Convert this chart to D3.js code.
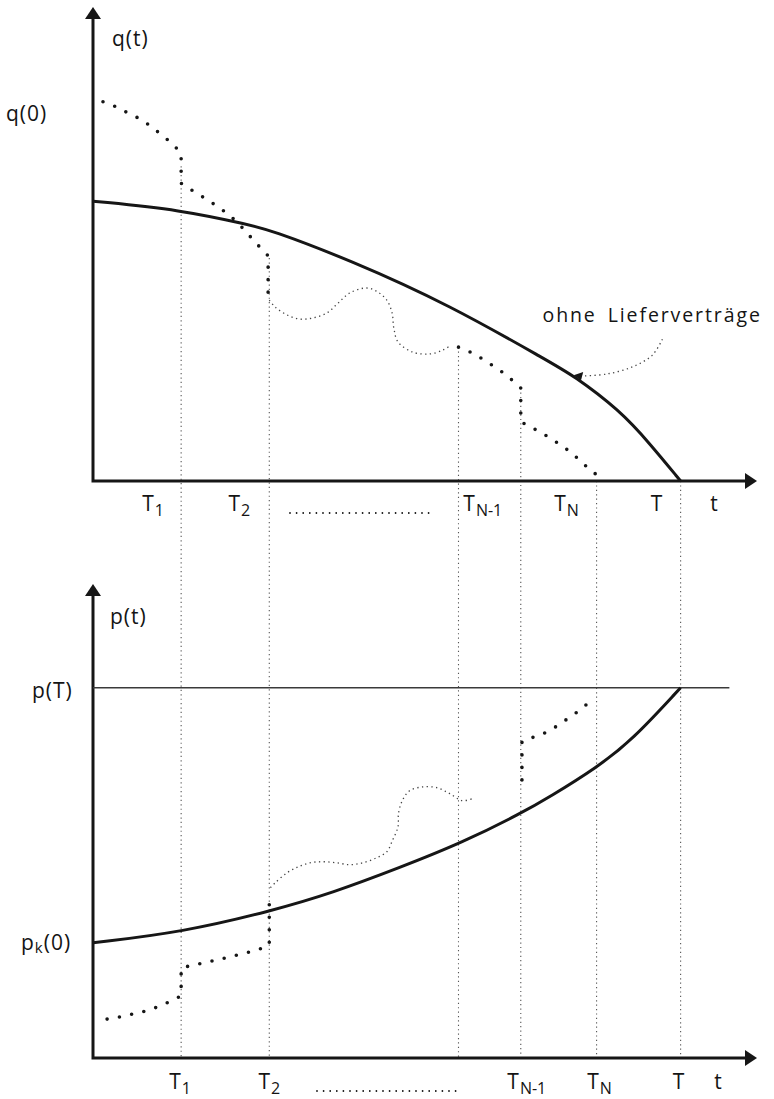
<!DOCTYPE html>
<html>
<head>
<meta charset="utf-8">
<script src="https://cdn.jsdelivr.net/npm/d3@7"></script>
<style>
  html, body { margin: 0; padding: 0; background: #fff; }
  svg { display: block; }
  text { font-family: "Open Sans", "DejaVu Sans", sans-serif; fill: #141414; }
</style>
</head>
<body>
<div id="chart"></div>
<script>
// --- data (t on a 0..100 scale where T = 100) ---

// dates marked on the time axis
const tickNames = ["1", "2", "N-1", "N", ""];          // subscripts of T
const tickT     = [15, 30, 72.8, 85.7, 100];

// vertical guide lines: where they sit and where they start in the upper panel
const guideT      = [15, 30, 62.2, 72.8, 85.7, 100];
const guideQStart = [83, 58.8, 35.3, 24.5, 0, 0];

// upper panel: q(t) without supply contracts (solid)
const qSolid = [[0, 73.8], [15, 71.5], [26.7, 67.5], [30, 66.3], [43.7, 58.3], [60.7, 46.4],
                [77.7, 31.4], [81.6, 28], [89.6, 18.7], [94.7, 10], [100, 0]];

// upper panel: q(t) with supply contracts (heavy dots, then light dots, then heavy again)
const qContractA = [[1.7, 100], [4.1, 98.6], [6, 97], [8, 95.5], [10, 93.4], [11.7, 91.2],
                    [13.6, 88.9], [15, 86.3], [15, 78.5], [17, 76.5], [19, 74.6], [21.1, 72.5],
                    [23, 70.4], [24.7, 68], [26.5, 64.9], [28.2, 62], [29.8, 59.4], [29.8, 47.7]];
const qWavy = [[30, 47.7], [31, 45.9], [33, 43.8], [35.2, 42.7], [37.4, 43], [39.8, 44.3],
               [41.7, 46.9], [43.7, 49.6], [46.6, 50.9], [48.5, 49.8], [50, 47.7], [50.9, 44.3],
               [51.2, 40.3], [51.9, 36.7], [54.4, 34], [57.3, 33.5], [59.5, 34.5], [60.7, 35.6]];
const qContractB = [[62.2, 35.3], [65, 33.5], [67, 31.4], [69, 29.5], [71.1, 26.9], [72.8, 24.5],
                    [72.8, 15.6], [74.8, 14], [77.2, 11.9], [79.3, 9.8], [81.5, 7.4], [83.3, 4.7],
                    [85.4, 2.1], [86, 0.4]];

// annotation pointer ("ohne Lieferverträge")
const notePointer = [[96.9, 37.4], [95.2, 33.2], [91.8, 30.1], [87.4, 28.2], [83.2, 27.7]];
const noteTip = [81.8, 27.9];

// lower panel: p(t) (solid), with p(T) = 100
const pSolid = [[0, 31.1], [15.3, 34], [30.4, 39.7], [40.8, 44.6], [52.2, 51.4], [62.8, 58.1],
                [73, 66.2], [77.7, 70.5], [85.7, 78.4], [91.8, 85.9], [100, 100]];
const pT = 100;

const pContractA = [[2.4, 10.5], [4.6, 11.1], [6.8, 11.9], [9, 12.7], [11, 13.8], [12.9, 15.1],
                    [15, 16.8], [15, 24.3], [17, 25.1], [19, 25.7], [21.1, 26.5], [23.3, 27.3],
                    [25.3, 28.1], [27.4, 28.9], [29.4, 30], [30, 30.5], [30, 44]];
const pWavy = [[30.2, 46], [31, 47.3], [33, 50], [34.9, 51.6], [36.9, 52.7], [39.1, 53],
               [41.5, 52.7], [43.7, 52.2], [45.9, 52.7], [48.3, 54.1], [50, 55.7], [51, 58.9],
               [51.9, 62.4], [52, 66.2], [52.7, 69.7], [53.9, 72.2], [56.1, 73.2], [58.5, 73],
               [60.7, 71.4], [62.8, 69.5], [64.5, 70]];
const pContractB = [[73, 75.1], [73, 85.4], [75.2, 86.8], [77.4, 88.1], [79.3, 90], [81.3, 92.2],
                    [83.2, 94.3], [85, 97]];

// --- layout ---
const W = 774, H = 1099;
const svg = d3.select("#chart").append("svg").attr("width", W).attr("height", H);

const x  = d3.scaleLinear().domain([0, 113]).range([93, 757]);
const yQ = d3.scaleLinear().domain([0, 125]).range([481, 7]);
const yP = d3.scaleLinear().domain([0, 128]).range([1058, 584]);

const INK = "#161616";

// guide lines run through both panels
svg.append("g").selectAll("line")
  .data(guideT)
  .join("line")
  .attr("x1", d => x(d)).attr("x2", d => x(d))
  .attr("y1", (d, i) => yQ(guideQStart[i]))
  .attr("y2", yP(0))
  .attr("stroke", "#555")
  .attr("stroke-width", 1.1)
  .attr("stroke-dasharray", "1.2,3.2");

function arrowHead(tx, ty, angle) {
  svg.append("path")
    .attr("d", "M0,0L-12,-8L-12,8Z")
    .attr("transform", `translate(${tx},${ty}) rotate(${angle})`)
    .attr("fill", INK);
}

function drawAxes(y) {
  const [y0, yTop] = y.range();
  svg.append("path")
    .attr("d", `M${x(0)},${yTop + 8}V${y0}H${x(113) - 8}`)
    .attr("fill", "none")
    .attr("stroke", INK)
    .attr("stroke-width", 3);
  arrowHead(x(0), yTop, -90);
  arrowHead(x(113), y0, 0);
}

function curve(data, y, type) {
  return d3.line().x(d => x(d[0])).y(d => y(d[1])).curve(type)(data);
}

function solid(data, y) {
  svg.append("path")
    .attr("d", curve(data, y, d3.curveBasis))
    .attr("fill", "none").attr("stroke", INK).attr("stroke-width", 3);
}
function heavyDots(data, y) {
  svg.append("path")
    .attr("d", curve(data, y, d3.curveLinear))
    .attr("fill", "none").attr("stroke", INK).attr("stroke-width", 3.6)
    .attr("stroke-linecap", "round").attr("stroke-dasharray", "0,12.5");
}
function lightDots(data, y) {
  svg.append("path")
    .attr("d", curve(data, y, d3.curveCatmullRom.alpha(0.5)))
    .attr("fill", "none").attr("stroke", "#444").attr("stroke-width", 1.3)
    .attr("stroke-dasharray", "1.3,3.4");
}

// ---------- upper panel ----------
drawAxes(yQ);
solid(qSolid, yQ);
heavyDots(qContractA, yQ);
lightDots(qWavy, yQ);
heavyDots(qContractB, yQ);

lightDots(notePointer, yQ);
{
  const tx = x(noteTip[0]), ty = yQ(noteTip[1]);
  svg.append("path")
    .attr("d", "M0,0L9,-4.5L8,4Z")
    .attr("transform", `translate(${tx},${ty}) rotate(8)`)
    .attr("fill", INK);
}
svg.append("text")
  .attr("x", x(76.5)).attr("y", yQ(42))
  .attr("font-size", 19.5).attr("letter-spacing", 1.9).attr("word-spacing", 4)
  .text("ohne Lieferverträge");

svg.append("text").attr("x", x(0) + 19).attr("y", yQ(125) + 39)
  .attr("font-size", 21).attr("letter-spacing", 1).text("q(t)");
svg.append("text").attr("x", 6).attr("y", yQ(100) + 19)
  .attr("font-size", 21).attr("letter-spacing", 1).text("q(0)");

// ---------- lower panel ----------
drawAxes(yP);
svg.append("line")
  .attr("x1", x(0)).attr("x2", x(108.3))
  .attr("y1", yP(pT)).attr("y2", yP(pT))
  .attr("stroke", "#3a3a3a").attr("stroke-width", 1.6);
solid(pSolid, yP);
heavyDots(pContractA, yP);
lightDots(pWavy, yP);
heavyDots(pContractB, yP);

svg.append("text").attr("x", x(0) + 17).attr("y", yP(128) + 40)
  .attr("font-size", 21).attr("letter-spacing", 1).text("p(t)");
svg.append("text").attr("x", 32).attr("y", yP(pT) + 10)
  .attr("font-size", 21).attr("letter-spacing", 1).text("p(T)");
{
  const t = svg.append("text").attr("x", 21).attr("y", yP(31.1) + 7)
    .attr("font-size", 21).attr("letter-spacing", 1);
  t.append("tspan").text("p");
  t.append("tspan").attr("font-size", 15).attr("dy", 3).text("k");
  t.append("tspan").attr("dy", -3).text("(0)");
}

// ---------- time axis labels ----------
function timeLabels(baseY, shifts, tShift, dotsFrom, dotsTo) {
  tickT.forEach((tv, i) => {
    const t = svg.append("text")
      .attr("x", x(tv) + shifts[i]).attr("y", baseY)
      .attr("text-anchor", "middle").attr("font-size", 21);
    t.append("tspan").text("T");
    if (tickNames[i]) {
      t.append("tspan").attr("font-size", 16).attr("dy", 5).attr("dx", 1).text(tickNames[i]);
    }
  });
  svg.append("text").attr("x", x(105.7) + tShift).attr("y", baseY)
    .attr("text-anchor", "middle").attr("font-size", 21).text("t");
  svg.append("line")
    .attr("x1", dotsFrom).attr("x2", dotsTo)
    .attr("y1", baseY + 2).attr("y2", baseY + 2)
    .attr("stroke", INK).attr("stroke-width", 1.8)
    .attr("stroke-linecap", "round").attr("stroke-dasharray", "0,6.6");
}
timeLabels(yQ(0) + 30, [-28, -30, -38, -30, -24], 0, 290, 430);
timeLabels(yP(0) + 31, [-1, 0, 6, 3, -2], 4, 317, 458);
</script>
</body>
</html>
